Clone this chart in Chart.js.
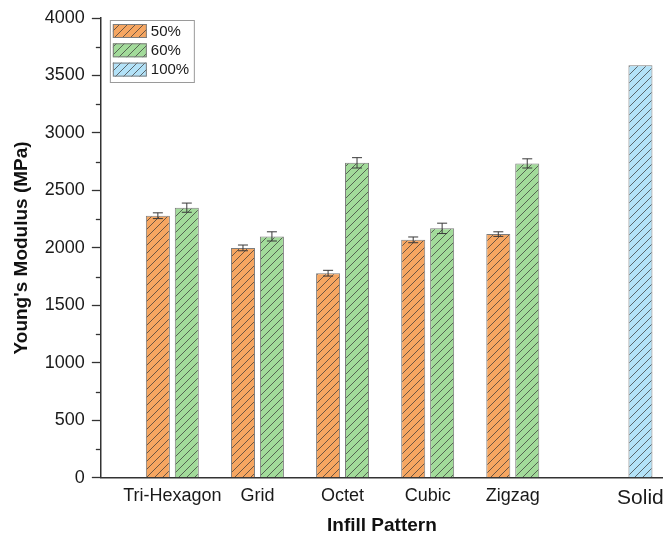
<!DOCTYPE html>
<html>
<head>
<meta charset="utf-8">
<script src="https://cdn.jsdelivr.net/npm/chart.js@4.4.1/dist/chart.umd.min.js"></script>
<style>
  html, body { margin: 0; padding: 0; background: #ffffff; }
  #wrap { width: 663px; height: 533px; position: relative; }
</style>
</head>
<body>
<div id="wrap"><canvas id="chart"></canvas></div>
<script>
// Young's modulus by infill pattern and infill density
const categories = ['Tri-Hexagon', 'Grid', 'Octet', 'Cubic', 'Zigzag', 'Solid'];
const modulus50  = [2280, 2000, 1780, 2070, 2120, null];
const error50    = [25, 25, 25, 25, 20, null];
const modulus60  = [2350, 2100, 2740, 2170, 2735, null];
const error60    = [40, 40, 45, 45, 40, null];
const modulus100 = [null, null, null, null, null, 3590];
const error100   = [null, null, null, null, null, null];
const seriesNames = ['50%', '60%', '100%'];
const yTickValues = [0, 500, 1000, 1500, 2000, 2500, 3000, 3500, 4000];

// Slot on the x axis: patterns two units apart, the solid reference set further off
function slotOf(i) {
  return i < 5 ? i * 2 : 8 + 3;
}

const FONT = "'Liberation Sans', Arial, sans-serif";

function hatch(color) {
  const s = 8;
  const c = document.createElement('canvas');
  c.width = s; c.height = s;
  const g = c.getContext('2d');
  g.fillStyle = color;
  g.fillRect(0, 0, s, s);
  g.strokeStyle = 'rgba(55,55,55,0.8)';
  g.lineWidth = 0.9;
  g.beginPath();
  g.moveTo(0, s); g.lineTo(s, 0);
  g.moveTo(-1, 1); g.lineTo(1, -1);
  g.moveTo(s - 1, s + 1); g.lineTo(s + 1, s - 1);
  g.stroke();
  return g.createPattern(c, 'repeat');
}

const fills = [hatch('#F6A661'), hatch('#A2DB9A'), hatch('#B3E2F8')];

function toPoints(values) {
  return values.map((v, i) => ({ x: slotOf(i), y: v }));
}

const seriesValues = [modulus50, modulus60, modulus100];
const seriesErrors = [error50, error60, error100];

const datasets = seriesValues.map((vals, k) => ({
  label: seriesNames[k],
  data: toPoints(vals),
  errors: seriesErrors[k],
  backgroundColor: fills[k],
  borderColor: '#7d7d7d',
  borderWidth: 1,
  skipNull: true,
  categoryPercentage: k === 2 ? 0.34 : 0.68,
  barPercentage: 0.83
}));

// Error bars drawn from each bar's own position and the y scale
const errorBars = {
  id: 'errorBars',
  afterDatasetsDraw(chart) {
    const ctx = chart.ctx;
    const y = chart.scales.y;
    ctx.save();
    ctx.strokeStyle = '#3a3a3a';
    ctx.lineWidth = 1;
    chart.data.datasets.forEach((ds, di) => {
      const meta = chart.getDatasetMeta(di);
      meta.data.forEach((bar, i) => {
        const v = ds.data[i].y;
        const e = ds.errors[i];
        if (v == null || e == null) return;
        const top = y.getPixelForValue(v + e);
        const bot = y.getPixelForValue(v - e);
        const x = bar.x;
        const cap = 5;
        ctx.beginPath();
        ctx.moveTo(x, top); ctx.lineTo(x, bot);
        ctx.moveTo(x - cap, top); ctx.lineTo(x + cap, top);
        ctx.moveTo(x - cap, bot); ctx.lineTo(x + cap, bot);
        ctx.stroke();
      });
    });
    ctx.restore();
  }
};

// Short minor ticks halfway between the labelled y ticks
const minorTicks = {
  id: 'minorTicks',
  afterDraw(chart) {
    const ctx = chart.ctx;
    const y = chart.scales.y;
    const left = chart.chartArea.left;
    ctx.save();
    ctx.strokeStyle = '#333333';
    ctx.lineWidth = 1.3;
    for (let k = 0; k < yTickValues.length - 1; k++) {
      const v = (yTickValues[k] + yTickValues[k + 1]) / 2;
      const py = Math.round(y.getPixelForValue(v)) + 0.5;
      ctx.beginPath();
      ctx.moveTo(left - 5, py); ctx.lineTo(left, py);
      ctx.stroke();
    }
    ctx.restore();
  }
};

// Framed legend in the upper-left corner of the plot
const boxedLegend = {
  id: 'boxedLegend',
  afterDraw(chart) {
    const ctx = chart.ctx;
    const a = chart.chartArea;
    const x0 = a.left + 9, y0 = a.top + 2;
    const w = 84, h = 62;
    ctx.save();
    ctx.fillStyle = '#ffffff';
    ctx.fillRect(x0, y0, w, h);
    ctx.strokeStyle = '#9a9a9a';
    ctx.lineWidth = 1;
    ctx.strokeRect(x0 + 0.5, y0 + 0.5, w, h);
    ctx.font = '15px ' + FONT;
    ctx.textBaseline = 'middle';
    ctx.textAlign = 'left';
    chart.data.datasets.forEach((ds, k) => {
      const ry = y0 + 4 + k * 19.3;
      ctx.fillStyle = ds.backgroundColor;
      ctx.fillRect(x0 + 3, ry, 34, 14);
      ctx.strokeStyle = '#7d7d7d';
      ctx.strokeRect(x0 + 3.5, ry + 0.5, 33, 13);
      ctx.fillStyle = '#1a1a1a';
      ctx.fillText(ds.label, x0 + 41, ry + 7.5);
    });
    ctx.restore();
  }
};

new Chart(document.getElementById('chart'), {
  type: 'bar',
  data: { datasets },
  options: {
    responsive: true,
    maintainAspectRatio: false,
    animation: false,
    layout: { padding: { left: 6, right: 0, top: 18, bottom: 0 } },
    plugins: {
      legend: { display: false },
      tooltip: { enabled: false }
    },
    scales: {
      x: {
        type: 'linear',
        min: -1.68,
        max: 11.53,
        offset: false,
        afterBuildTicks(scale) {
          scale.ticks = categories.map((c, i) => ({ value: slotOf(i) }));
        },
        afterFit(scale) {
          scale.paddingLeft = 0;
          scale.paddingRight = 0;
        },
        grid: { display: false, drawTicks: false },
        border: { display: true, color: '#333333', width: 1.5 },
        ticks: {
          autoSkip: false,
          maxRotation: 0,
          padding: 9.5,
          color: '#1a1a1a',
          font: (ctx) => ({ family: FONT, size: ctx.tick && ctx.tick.value === slotOf(5) ? 21 : 18, lineHeight: 1.0 }),
          callback(value) {
            const i = categories.findIndex((c, k) => slotOf(k) === value);
            return i >= 0 ? categories[i] : '';
          }
        },
        title: {
          display: true,
          text: 'Infill Pattern',
          color: '#111111',
          font: { family: FONT, size: 19, weight: 'bold', lineHeight: 0.8 },
          padding: { top: 0, bottom: 0 }
        }
      },
      y: {
        min: 0,
        max: 4000,
        afterBuildTicks(scale) {
          scale.ticks = yTickValues.map(v => ({ value: v }));
        },
        grid: { drawOnChartArea: false, drawTicks: true, tickLength: 9, tickColor: '#333333', tickWidth: 1.3 },
        border: { display: true, color: '#333333', width: 1.5 },
        ticks: {
          padding: 7,
          color: '#1a1a1a',
          font: { family: FONT, size: 18 },
          callback(value) { return String(value); }
        },
        title: {
          display: true,
          text: "Young's Modulus (MPa)",
          color: '#111111',
          font: { family: FONT, size: 19, weight: 'bold' },
          padding: { top: 4, bottom: 5 }
        }
      }
    }
  },
  plugins: [errorBars, minorTicks, boxedLegend]
});
</script>
</body>
</html>
